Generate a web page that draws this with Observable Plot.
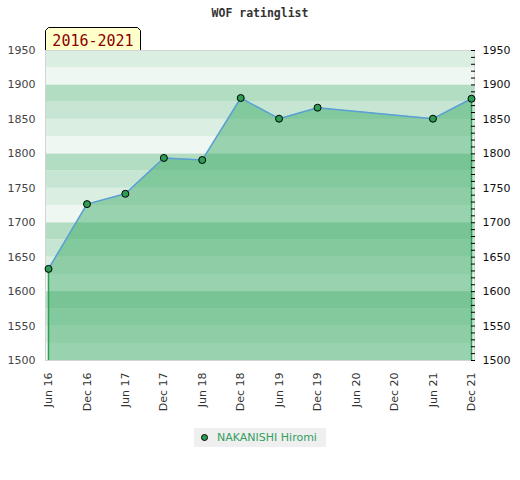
<!DOCTYPE html>
<html>
<head>
<meta charset="utf-8">
<script src="https://cdn.jsdelivr.net/npm/d3@7"></script>
<script src="https://cdn.jsdelivr.net/npm/@observablehq/plot@0.6"></script>
<style>
  body { margin: 0; background: #fff; width: 520px; }
  #title { box-sizing: border-box; height: 25px; padding-top: 7px; line-height: 13px; text-align: center; font-family: "DejaVu Sans Mono", monospace; font-weight: bold; font-size: 11.5px; color: #333; }
  #chart svg { display: block; }
  #legend { text-align: center; margin-top: 7px; }
  #legend .box { display: inline-flex; align-items: center; background: #efefef; height: 19px; padding: 0 9px 0 7px; font-family: "DejaVu Sans", sans-serif; font-size: 11px; color: #33a060; }
  #legend .dot { width: 7px; height: 7px; border-radius: 50%; background: #2e9e55; border: 1px solid #000; margin-right: 9px; box-sizing: border-box; }
</style>
</head>
<body>
<div id="title">WOF ratinglist</div>
<div id="chart"></div>
<div id="legend"><span class="box"><span class="dot"></span>NAKANISHI Hiromi</span></div>
<script>
const periods = ["2016-06","2016-12","2017-06","2017-12","2018-06","2018-12","2019-06","2019-12","2021-06","2021-12"];
const ratings = [1633, 1727, 1742, 1794, 1791, 1881, 1851, 1867, 1851, 1880];
const tickPeriods = ["2016-06","2016-12","2017-06","2017-12","2018-06","2018-12","2019-06","2019-12","2020-06","2020-12","2021-06","2021-12"];
const yTicks = [1500,1550,1600,1650,1700,1750,1800,1850,1900,1950];
const minorTicks = d3.range(1500, 1951, 10);
const bandStarts = d3.range(1500, 1950, 25);
const bandPalette = ["#eef7f1", "#dbeee2", "#c6e6d3", "#b3ddc3"];
const seriesName = "NAKANISHI Hiromi";
const rangeLabel = "2016-2021";

const parse = d3.utcParse("%Y-%m");
const data = periods.map((p, i) => ({date: parse(p), rating: ratings[i]}));
const xTicks = tickPeriods.map(parse);
const fmtY = d3.format("d");

const chart = Plot.plot({
  width: 520,
  height: 395,
  marginTop: 25,
  marginBottom: 60,
  marginLeft: 45,
  marginRight: 46,
  style: {fontFamily: "DejaVu Sans", fontSize: "11px", color: "#333", background: "transparent"},
  x: {type: "utc", domain: [xTicks[0], xTicks[xTicks.length - 1]], insetLeft: 3, insetRight: 3},
  y: {domain: [1500, 1950]},
  color: {type: "identity"},
  marks: [
    Plot.rect(bandStarts, {y1: d => d, y2: d => d + 25, fill: (d, i) => bandPalette[i % 4]}),
    Plot.areaY(data, {x: "date", y1: 1500, y2: "rating", fill: "#2aa355", fillOpacity: 0.43}),
    Plot.ruleX([data[0], data[data.length - 1]], {x: "date", y1: 1500, y2: "rating", stroke: "#2e9e55", strokeWidth: 1.5}),
    Plot.line(data, {x: "date", y: "rating", stroke: "#5b9fd8", strokeWidth: 1.5}),
    Plot.frame({stroke: "#d4d4d4"}),
    Plot.axisY({anchor: "left", ticks: yTicks, tickFormat: fmtY, tickSize: 0, tickPadding: 10, label: null, fill: "#444"}),
    Plot.axisY({anchor: "right", ticks: yTicks, tickFormat: fmtY, tickSize: 0, tickPadding: 8, label: null, fill: "#111"}),
    Plot.axisY({anchor: "right", ticks: minorTicks, tickSize: 4, dx: -4, tickFormat: () => "", label: null, stroke: "#000"}),
    Plot.axisX({ticks: xTicks, tickFormat: d3.utcFormat("%b %y"), tickRotate: -90, tickSize: 0, tickPadding: 12, label: null, fill: "#333"}),
    Plot.dot(data, {x: "date", y: "rating", r: 3.5, fill: "#2e9e55", stroke: "#000", strokeWidth: 1})
  ]
});
document.getElementById("chart").appendChild(chart);

// range badge above the top-left of the frame
const svg = d3.select(chart);
const g = svg.append("g");
g.append("path")
  .attr("d", "M45.5,25 V5.5 L48.5,2.5 H137.5 L140.5,5.5 V25")
  .attr("fill", "#ffffcc").attr("stroke", "#000").attr("stroke-width", 1);
g.append("text")
  .attr("x", 93).attr("y", 20.5).attr("text-anchor", "middle")
  .attr("font-family", "DejaVu Sans Mono").attr("font-size", 15)
  .attr("fill", "#8b0000").text(rangeLabel);
</script>
</body>
</html>
